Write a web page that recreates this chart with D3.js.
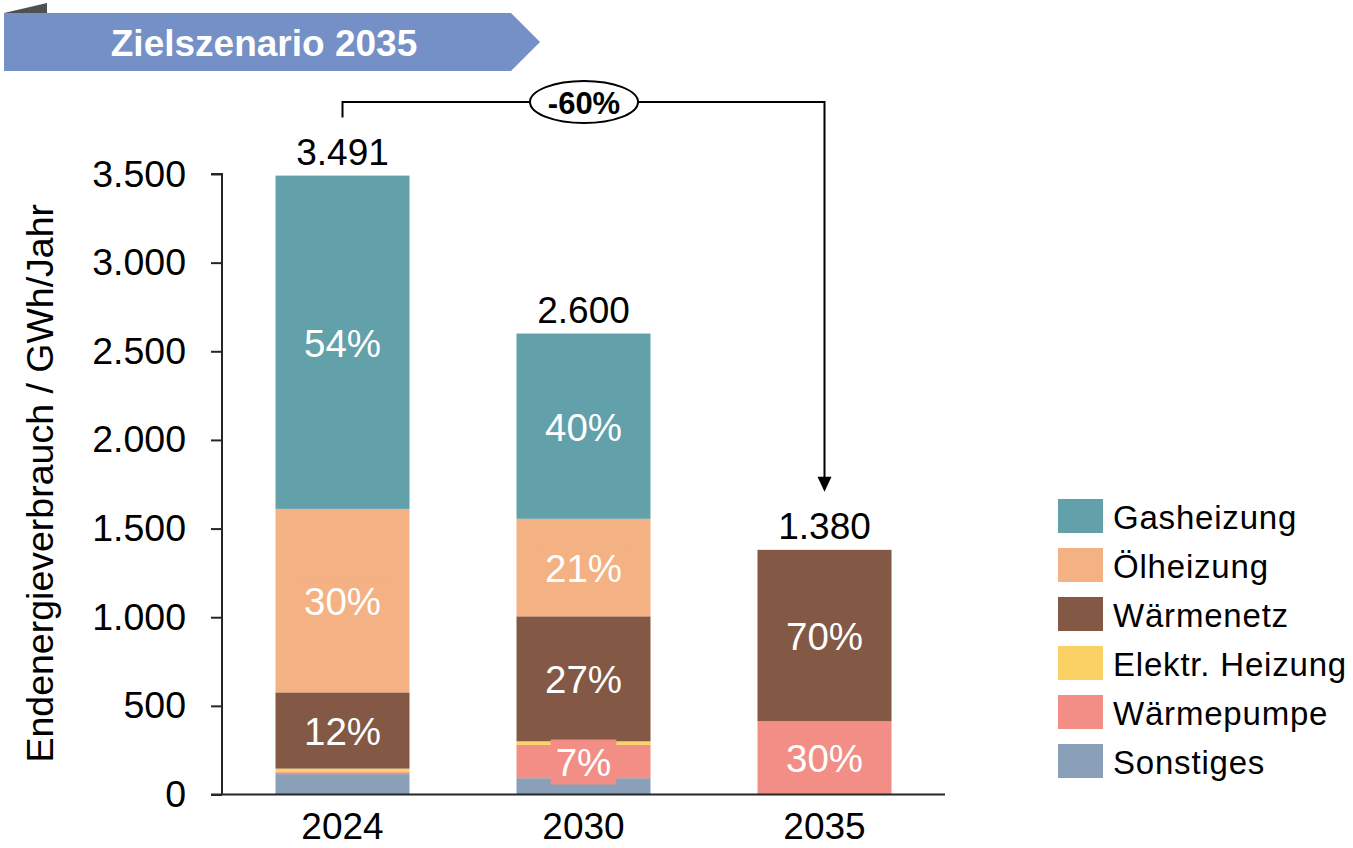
<!DOCTYPE html>
<html>
<head>
<meta charset="utf-8">
<script src="https://cdn.jsdelivr.net/npm/d3@7"></script>
<style>
  html, body { margin: 0; padding: 0; background: #fff; }
  svg { display: block; font-family: "Liberation Sans", Arial, sans-serif; }
</style>
</head>
<body>
<svg id="chart" width="1353" height="848"></svg>
<script>
// Endenergieverbrauch nach Heizungsart, GWh/Jahr
const years = ["2024", "2030", "2035"];
const categories = ["Gasheizung", "Ölheizung", "Wärmenetz", "Elektr. Heizung", "Wärmepumpe", "Sonstiges"];
const gasheizung    = [1880, 1045, 0];
const oelheizung    = [1035, 550, 0];
const waermenetz    = [430, 705, 966];
const elektrHeizung = [20, 20, 0];
const waermepumpe   = [11, 188, 414];
const sonstiges     = [115, 92, 0];
const yTicks = [0, 500, 1000, 1500, 2000, 2500, 3000, 3500];
const bannerTitle = "Zielszenario 2035";
const yTitle = "Endenergieverbrauch / GWh/Jahr";

const colors = {
  "Gasheizung": "#62A0AA",
  "Ölheizung": "#F4B183",
  "Wärmenetz": "#835845",
  "Elektr. Heizung": "#FBD166",
  "Wärmepumpe": "#F28E86",
  "Sonstiges": "#8A9FB8"
};

const seriesValues = {
  "Gasheizung": gasheizung,
  "Ölheizung": oelheizung,
  "Wärmenetz": waermenetz,
  "Elektr. Heizung": elektrHeizung,
  "Wärmepumpe": waermepumpe,
  "Sonstiges": sonstiges
};

const rows = years.map((yr, i) => {
  const r = { year: yr };
  categories.forEach(c => { r[c] = seriesValues[c][i]; });
  r.total = d3.sum(categories, c => seriesValues[c][i]);
  return r;
});

// stacked bottom-up: Sonstiges first, Gasheizung on top
const stackKeys = categories.slice().reverse();
const stacked = d3.stack().keys(stackKeys)(rows);

const svg = d3.select("#chart");
const fmt = d3.formatLocale({ decimal: ",", thousands: ".", grouping: [3], currency: ["", "€"] }).format(",.0f");

const plot = { left: 222, right: 945, top: 174, bottom: 794.5 };
const fontMain = 37.5;

const x = d3.scaleBand().domain(years).range([plot.left, plot.right]).paddingInner(0.444).paddingOuter(0.222);
const y = d3.scaleLinear().domain([0, 3500]).range([plot.bottom, plot.top]);

// banner
const banner = svg.append("g");
banner.append("polygon")
  .attr("points", "4,13 47,3 47,13")
  .attr("fill", "#505050");
banner.append("polygon")
  .attr("points", "4,13 511,13 540,42 511,71 4,71")
  .attr("fill", "#7490C6");
banner.append("text")
  .attr("x", 264).attr("y", 43)
  .attr("text-anchor", "middle").attr("dominant-baseline", "central")
  .attr("fill", "#fff").attr("font-weight", "bold").attr("font-size", 37)
  .text(bannerTitle);

// bars
const layers = svg.append("g").selectAll("g").data(stacked).join("g")
  .attr("fill", d => colors[d.key]);
layers.selectAll("rect").data(d => d).join("rect")
  .attr("x", d => x(d.data.year))
  .attr("width", x.bandwidth())
  .attr("y", d => y(d[1]))
  .attr("height", d => Math.max(0, y(d[0]) - y(d[1])));

// percentage labels inside segments (share >= 5 %)
const labelG = svg.append("g");
stacked.forEach(layer => {
  layer.forEach(d => {
    const v = d[1] - d[0];
    const share = v / d.data.total;
    if (share < 0.05) return;
    const cx = x(d.data.year) + x.bandwidth() / 2;
    const cy = (y(d[0]) + y(d[1])) / 2;
    const g = labelG.append("g");
    const t = g.append("text")
      .attr("x", cx).attr("y", cy + 1)
      .attr("text-anchor", "middle").attr("dominant-baseline", "central")
      .attr("fill", "#fff").attr("font-size", 38.5)
      .text(Math.round(share * 100) + "%");
    const bb = t.node().getBBox();
    g.insert("rect", "text")
      .attr("x", bb.x - 5).attr("y", cy - 22)
      .attr("width", bb.width + 10).attr("height", 45)
      .attr("fill", colors[layer.key]);
  });
});

// totals above bars
svg.append("g").selectAll("text").data(rows).join("text")
  .attr("x", d => x(d.year) + x.bandwidth() / 2)
  .attr("y", d => y(d.total) - 11)
  .attr("text-anchor", "middle")
  .attr("font-size", 37).attr("fill", "#000")
  .text(d => fmt(d.total));

// axes
const yAxis = svg.append("g")
  .attr("transform", `translate(${plot.left},0)`)
  .call(d3.axisLeft(y).tickValues(yTicks).tickSize(11).tickPadding(25).tickFormat(fmt));
yAxis.select(".domain").attr("stroke", "#262626").attr("stroke-width", 2)
  .attr("d", `M-11,${y(3500)}H0V${y(0)}`);
yAxis.selectAll(".tick line").attr("stroke", "#262626").attr("stroke-width", 2);
yAxis.selectAll(".tick text").attr("font-size", fontMain).attr("fill", "#000")
  .attr("font-family", "Liberation Sans, Arial, sans-serif");

const xAxis = svg.append("g")
  .attr("transform", `translate(0,${plot.bottom})`)
  .call(d3.axisBottom(x).tickSize(0).tickPadding(18));
xAxis.select(".domain").attr("stroke", "#262626").attr("stroke-width", 2)
  .attr("d", `M${plot.left - 11},0H${plot.right}`);
xAxis.selectAll(".tick text").attr("font-size", 37).attr("fill", "#000")
  .attr("font-family", "Liberation Sans, Arial, sans-serif");

// y-axis title
svg.append("text")
  .attr("transform", `translate(40,${(plot.top + plot.bottom) / 2 - 1}) rotate(-90)`)
  .attr("text-anchor", "middle").attr("dominant-baseline", "central")
  .attr("font-size", fontMain).attr("fill", "#000")
  .text(yTitle);

// reduction bracket 2024 -> 2035
const first = rows[0], last = rows[rows.length - 1];
const change = Math.round((last.total - first.total) / first.total * 100);
const xa = x(first.year) + x.bandwidth() / 2;
const xb = x(last.year) + x.bandwidth() / 2;
const lineY = 102;
const tipY = y(last.total) - 58;
const br = svg.append("g");
br.append("path")
  .attr("d", `M${xa},${y(first.total) - 58}V${lineY}H${xb}V${tipY - 14}`)
  .attr("fill", "none").attr("stroke", "#000").attr("stroke-width", 2);
br.append("path")
  .attr("d", `M${xb - 7},${tipY - 15}L${xb + 7},${tipY - 15}L${xb},${tipY}Z`)
  .attr("fill", "#000");
const ex = (xa + xb) / 2 + 0.5;
br.append("ellipse")
  .attr("cx", ex).attr("cy", lineY)
  .attr("rx", 54).attr("ry", 21)
  .attr("fill", "#fff").attr("stroke", "#000").attr("stroke-width", 2);
br.append("text")
  .attr("x", ex).attr("y", lineY + 1)
  .attr("text-anchor", "middle").attr("dominant-baseline", "central")
  .attr("font-weight", "bold").attr("font-size", 31).attr("fill", "#000")
  .text(change + "%");

// legend
const legend = svg.append("g").attr("transform", "translate(1058,499)");
const items = legend.selectAll("g").data(categories).join("g")
  .attr("transform", (d, i) => `translate(0,${i * 49})`);
items.append("rect").attr("width", 45).attr("height", 34).attr("fill", d => colors[d]);
items.append("text")
  .attr("x", 55).attr("y", 18)
  .attr("dominant-baseline", "central")
  .attr("font-size", 33).attr("letter-spacing", 0.8).attr("fill", "#000")
  .text(d => d);
</script>
</body>
</html>
